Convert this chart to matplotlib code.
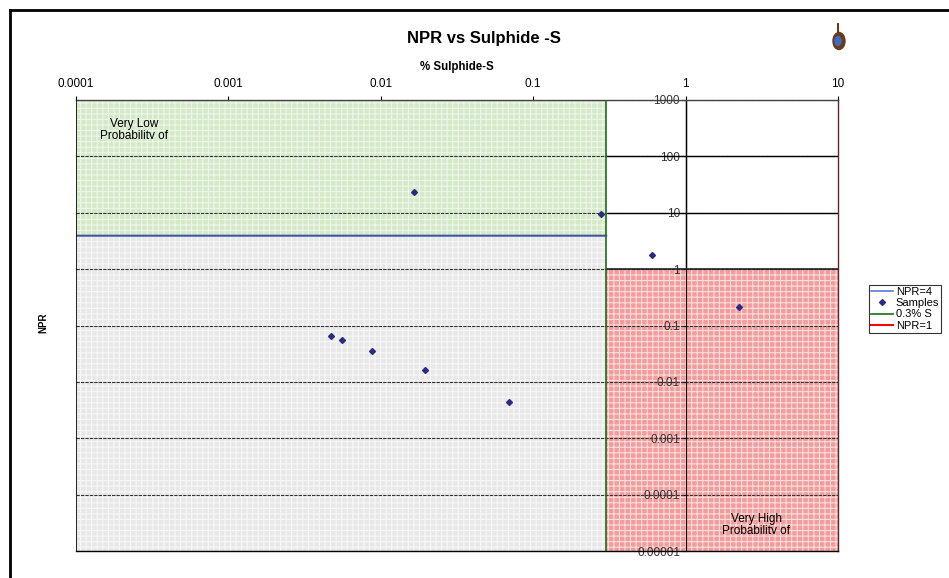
import matplotlib
matplotlib.use('Agg')
import matplotlib.pyplot as plt
from matplotlib.lines import Line2D
from matplotlib.patches import Ellipse
from matplotlib.transforms import Bbox, TransformedBbox
from matplotlib.ticker import FixedLocator, FixedFormatter

plt.rcParams['font.family'] = ['Liberation Sans', 'DejaVu Sans']
plt.rcParams['hatch.linewidth'] = 0.8

# Sample data (% Sulphide-S, NPR)
sulphide = [0.0164, 0.28, 0.6, 2.25, 0.0047, 0.0056, 0.0087, 0.0194, 0.069]
npr = [23, 9.4, 1.77, 0.21, 0.065, 0.055, 0.035, 0.016, 0.0044]

# Criteria
s_limit = 0.3
npr_low = 1
npr_high = 4

x_ticks = [0.0001, 0.001, 0.01, 0.1, 1, 10]
x_labels = ['0.0001', '0.001', '0.01', '0.1', '1', '10']
y_ticks = [1000, 100, 10, 1, 0.1, 0.01, 0.001, 0.0001, 0.00001]
y_labels = ['1000', '100', '10', '1', '0.1', '0.01', '0.001', '0.0001', '0.00001']

xmin, xmax = 0.0001, 10
ymin, ymax = 0.00001, 1000

W, H = 949, 578
fig = plt.figure(figsize=(W / 100, H / 100), dpi=100)
ax = fig.add_axes([76 / W, 1 - 551 / H, (838 - 76) / W, (551 - 100) / H])
ax.set_xscale('log')
ax.set_yscale('log')
ax.set_xlim(xmin, xmax)
ax.set_ylim(ymin, ymax)

# shaded zones
ax.fill_between([xmin, s_limit], npr_high, ymax, facecolor='#d3e9c8',
                edgecolor='#eef6ea', hatch='+++', linewidth=0, zorder=1)
ax.fill_between([xmin, s_limit], ymin, npr_high, facecolor='#e8e8e8',
                edgecolor='#f7f7f7', hatch='+++', linewidth=0, zorder=1)
ax.fill_between([s_limit, xmax], ymin, npr_low, facecolor='#f39c9c',
                edgecolor='#fbdede', hatch='+++', linewidth=0, zorder=1)

# gridlines: dashed over the shaded zones, solid in the white zone
for yt in y_ticks:
    ax.axhline(yt, color='#333333', linewidth=0.8, linestyle=(0, (3, 1)), zorder=2)
for yt in [100, 10]:
    ax.plot([s_limit, xmax], [yt, yt], color='black', linewidth=1.0, zorder=2)
ax.plot([1, 1], [npr_low, ymax], color='black', linewidth=1.0, zorder=2)

# zone borders
ax.plot([xmin, s_limit], [npr_high, npr_high], color='black', linewidth=1.0, zorder=3)
ax.plot([s_limit, xmax], [npr_low, npr_low], color='#222222', linewidth=1.2, zorder=3)
ax.axvline(xmin, color='black', linewidth=1.2, zorder=4)

# series
ax.plot([xmin, s_limit], [npr_high * 0.96, npr_high * 0.96], color='#4a6cd8',
        linewidth=1.1, zorder=3, label='NPR=4')
ax.plot(sulphide, npr, linestyle='none', marker='D', markersize=3,
        color='#2a2a80', zorder=5, label='Samples')
ax.plot([s_limit, s_limit], [ymin, ymax], color='#1a6e1a', linewidth=1.2, zorder=3, label='0.3% S')
ax.plot([], [], color='red', linewidth=1.5, label='NPR=1')

# axes
ax.spines['left'].set_position(('data', 1))
ax.spines['left'].set_linestyle((0, (3, 1)))
ax.spines['left'].set_linewidth(0.8)
for s in ['top', 'bottom', 'right']:
    ax.spines[s].set_linewidth(1.0)
ax.spines['top'].set_color('#444444')
ax.spines['right'].set_color('#5a2a2a')
ax.xaxis.tick_top()
ax.xaxis.set_label_position('top')
ax.xaxis.set_major_locator(FixedLocator(x_ticks))
ax.xaxis.set_major_formatter(FixedFormatter(x_labels))
ax.xaxis.set_minor_locator(FixedLocator([]))
ax.yaxis.set_major_locator(FixedLocator(y_ticks))
ax.yaxis.set_major_formatter(FixedFormatter(y_labels))
ax.yaxis.set_minor_locator(FixedLocator([]))
ax.tick_params(axis='x', labelsize=8.5, length=3, pad=4)
ax.tick_params(axis='y', labelsize=8.5, length=3, pad=1, labelcolor='#333333')
ax.set_xlabel('% Sulphide-S', fontsize=8.3, fontweight='bold', labelpad=6)

# zone labels (clipped like the original text boxes)
t1 = ax.text(0.00024, 480, 'Very Low\nProbability of', ha='center', va='top',
             fontsize=8.5, linespacing=1.0, zorder=6)
t1.set_clip_box(TransformedBbox(Bbox.from_extents(80 / W, 1 - 139 / H, 280 / W, 1 - 100 / H),
                                fig.transFigure))
t1.set_clip_on(True)
t2 = ax.text(2.9, 0.000047, 'Very High\nProbability of', ha='center', va='top',
             fontsize=8.5, linespacing=1.0, zorder=6)
t2.set_clip_box(TransformedBbox(Bbox.from_extents(690 / W, 1 - 534 / H, 830 / W, 1 - 490 / H),
                                fig.transFigure))
t2.set_clip_on(True)

# titles
fig.text(484 / W, 1 - 38.5 / H, 'NPR vs Sulphide -S', ha='center', va='center',
         fontsize=12, fontweight='bold')
fig.text(43 / W, 1 - 323 / H, 'NPR', ha='center', va='center', rotation=90,
         fontsize=7, fontweight='bold')

# legend
handles, labels = ax.get_legend_handles_labels()
leg = fig.legend(handles, labels, loc='upper left', bbox_to_anchor=(869 / W, 1 - 285 / H),
                 fontsize=8, frameon=True, fancybox=False, edgecolor='black',
                 borderpad=0.2, labelspacing=0.1, handlelength=2.0, handletextpad=0.2,
                 borderaxespad=0)
leg.get_frame().set_linewidth(0.8)

# outer frame
fig.add_artist(Line2D([10 / W, 10 / W], [0, 1 - 10 / H], color='black', linewidth=2,
                      transform=fig.transFigure))
fig.add_artist(Line2D([10 / W, 1], [1 - 10 / H, 1 - 10 / H], color='black', linewidth=2,
                      transform=fig.transFigure))

# small logo
fig.add_artist(Ellipse((839 / W, 1 - 41 / H), 12 / W, 17 / H, color='#6b3a1a',
                       transform=fig.transFigure))
fig.add_artist(Ellipse((838 / W, 1 - 41 / H), 6 / W, 9 / H, color='#3a6fc0',
                       transform=fig.transFigure))
fig.add_artist(Line2D([838 / W, 838 / W], [1 - 33 / H, 1 - 24 / H], color='#6b3a1a',
                      linewidth=1.5, transform=fig.transFigure))

fig.savefig('out.png', dpi=100)
